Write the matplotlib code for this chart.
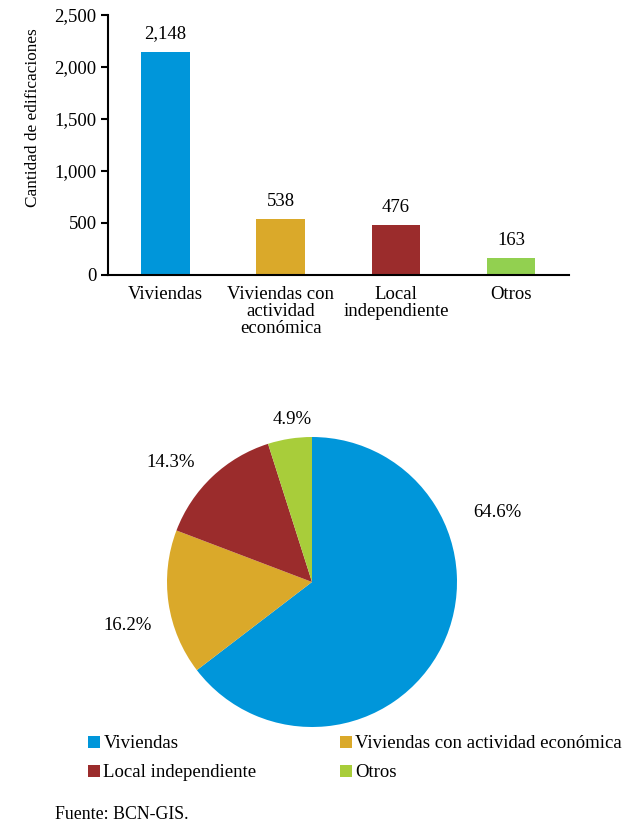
import numpy as np
import matplotlib
matplotlib.use("Agg")
import matplotlib.pyplot as plt
from matplotlib.patches import Patch

plt.rcParams['font.family'] = ['Liberation Serif', 'DejaVu Serif']

# datos
categorias = ['Viviendas', 'Viviendas con\nactividad\neconómica', 'Local\nindependiente', 'Otros']
leyenda = ['Viviendas', 'Viviendas con actividad económica', 'Local independiente', 'Otros']
valores = [2148, 538, 476, 163]
colores_barras = ['#0096DA', '#DAA92A', '#9B2C2C', '#92D050']
colores_pie = ['#0096DA', '#DAA92A', '#9B2C2C', '#A8CD3A']
yticks = [0, 500, 1000, 1500, 2000, 2500]

# posiciones de etiquetas del pie (en radios)
pos_etiquetas = [(1.276, 0.476), (-1.269, -0.303), (-0.972, 0.821), (-0.138, 1.12)]

fs = 13.5

fig = plt.figure(figsize=(6.3, 8.22), dpi=100)

# Gráfico de barras
ax = fig.add_axes([0.171, 0.6655, 0.732, 0.3163])
x = np.arange(len(valores))
ax.bar(x, valores, width=0.42, color=colores_barras)
for xi, v in zip(x, valores):
    ax.text(xi, v + 90, f'{v:,}', ha='center', va='bottom', fontsize=fs)
ax.set_xlim(-0.5, len(valores) - 0.5)
ax.set_ylim(0, 2500)
ax.set_yticks(yticks)
ax.set_yticklabels([f'{t:,}' for t in yticks], fontsize=fs)
ax.set_xticks(x)
ax.set_xticklabels(categorias, fontsize=fs, linespacing=1.0)
ax.tick_params(axis='x', length=0, pad=8)
ax.tick_params(axis='y', length=5, width=1.5, direction='out', pad=3)
ax.spines['top'].set_visible(False)
ax.spines['right'].set_visible(False)
ax.spines['left'].set_linewidth(1.5)
ax.spines['bottom'].set_linewidth(1.5)
ax.set_ylabel('Cantidad de edificaciones', fontsize=12.4)
ax.yaxis.set_label_coords(-0.145, 0.604)

# Gráfico circular
ax2 = fig.add_axes([(312 - 145) / 630, 1 - (582 + 145) / 822, 290 / 630, 290 / 822])
ax2.pie(valores, colors=colores_pie, startangle=90, counterclock=False, radius=1)
ax2.set_xlim(-1, 1)
ax2.set_ylim(-1, 1)
ax2.set_aspect('auto')
total = sum(valores)
for v, (px, py) in zip(valores, pos_etiquetas):
    ax2.text(px, py, f'{100 * v / total:.1f}%', ha='center', va='center', fontsize=fs)

# Leyenda (orden por filas)
orden = [0, 2, 1, 3]
handles = [Patch(facecolor=colores_pie[i]) for i in orden]
etiquetas = [leyenda[i] for i in orden]
fig.legend(handles, etiquetas, loc='upper left', bbox_to_anchor=(0.1255, 0.117),
           ncol=2, frameon=False, fontsize=fs, handlelength=0.6, handleheight=0.6,
           handletextpad=0.2, columnspacing=4.47, labelspacing=0.65, borderpad=0)

fig.text(55 / 630, 1 - 814 / 822, 'Fuente: BCN-GIS.', fontsize=12.8, va='center')

fig.savefig('out.png', dpi=100)
